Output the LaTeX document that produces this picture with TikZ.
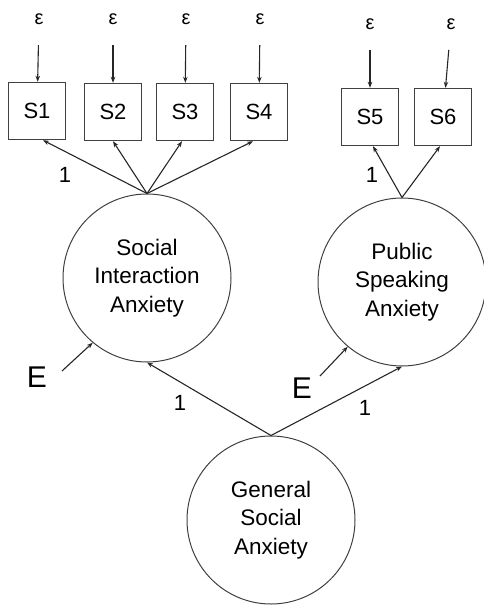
\documentclass[tikz,border=0pt]{standalone}
\usepackage{fontspec}
\setmainfont{Liberation Sans}
\usetikzlibrary{arrows.meta}
\tikzset{
    >={Stealth[length=6pt,width=4.5pt]},
    obs/.style={rectangle,draw=black!75,line width=1.4pt,minimum width=57pt,minimum height=57pt,inner sep=0pt,font=\fontsize{22}{25}\selectfont},
    lat/.style={circle,draw=black!75,line width=1pt,minimum size=168pt,inner sep=0pt,align=center,font=\fontsize{22.5}{28.5}\selectfont},
    err/.style={font=\fontsize{20}{20}\selectfont},
    dist/.style={font=\fontsize{30}{30}\selectfont},
    wt/.style={font=\fontsize{22}{22}\selectfont},
    load/.style={->,line width=1.1pt,draw=black!85},
}

\begin{document}
\begin{tikzpicture}[x=1pt,y=-1pt]
        \useasboundingbox (0,0) rectangle (483,605);

        % indicators
        \node[obs] (s1) at ( 37, 111) {S1};
        \node[obs] (s2) at (113, 112) {S2};
        \node[obs] (s3) at (185, 112) {S3};
        \node[obs] (s4) at (259, 112) {S4};
        \node[obs] (s5) at (370, 117) {S5};
        \node[obs] (s6) at (443, 117) {S6};

        % measurement errors
        \node[err] (e1) at ( 39, 19) {ε} edge[load,shorten <=17pt] (s1);
        \node[err] (e2) at (113, 19) {ε} edge[load,shorten <=17pt] (s2);
        \node[err] (e3) at (186, 19) {ε} edge[load,shorten <=17pt] (s3);
        \node[err] (e4) at (260, 19) {ε} edge[load,shorten <=17pt] (s4);
        \node[err] (e5) at (370, 24) {ε} edge[load,shorten <=17pt] (s5);
        \node[err] (e6) at (451, 24) {ε} edge[load,shorten <=17pt] (s6);

        % latent factors
        \node[lat] (sia) at (147, 278) {Social\\Interaction\\Anxiety};
        \node[lat] (psa) at (402, 282) {Public\\Speaking\\Anxiety};
        \node[lat] (gsa) at (271, 520) {General\\Social\\Anxiety};

        \draw[load] (sia.north) -- ([xshift=6pt]s1.south);
        \draw[load] (sia.north) -- (s2.south);
        \draw[load] (sia.north) -- ([xshift=-3pt]s3.south);
        \draw[load] (sia.north) -- ([xshift=-6pt]s4.south);
        \draw[load] (psa.north) -- ([xshift=3pt]s5.south);
        \draw[load] (psa.north) -- ([xshift=-3pt]s6.south);
        \draw[load] (gsa.north) -- (sia.south);
        \draw[load] (gsa.north) -- (psa.south);

        % disturbances
        \node[dist] (dl) at ( 37, 377) {E};
        \node[dist] (dr) at (302, 388) {E};
        \coordinate (dltail) at ( 62, 371);
        \coordinate (drtail) at (320, 376);
        \draw[load] (dltail) -- (sia.230);
        \draw[load] (drtail) -- (psa.230);

        % fixed loadings
        \node[wt] (w1) at ( 65, 175) {1};
        \node[wt] (w5) at (372, 175) {1};
        \node[wt] (w7) at (180, 403) {1};
        \node[wt] (w8) at (365, 408) {1};
\end{tikzpicture}
\end{document}
